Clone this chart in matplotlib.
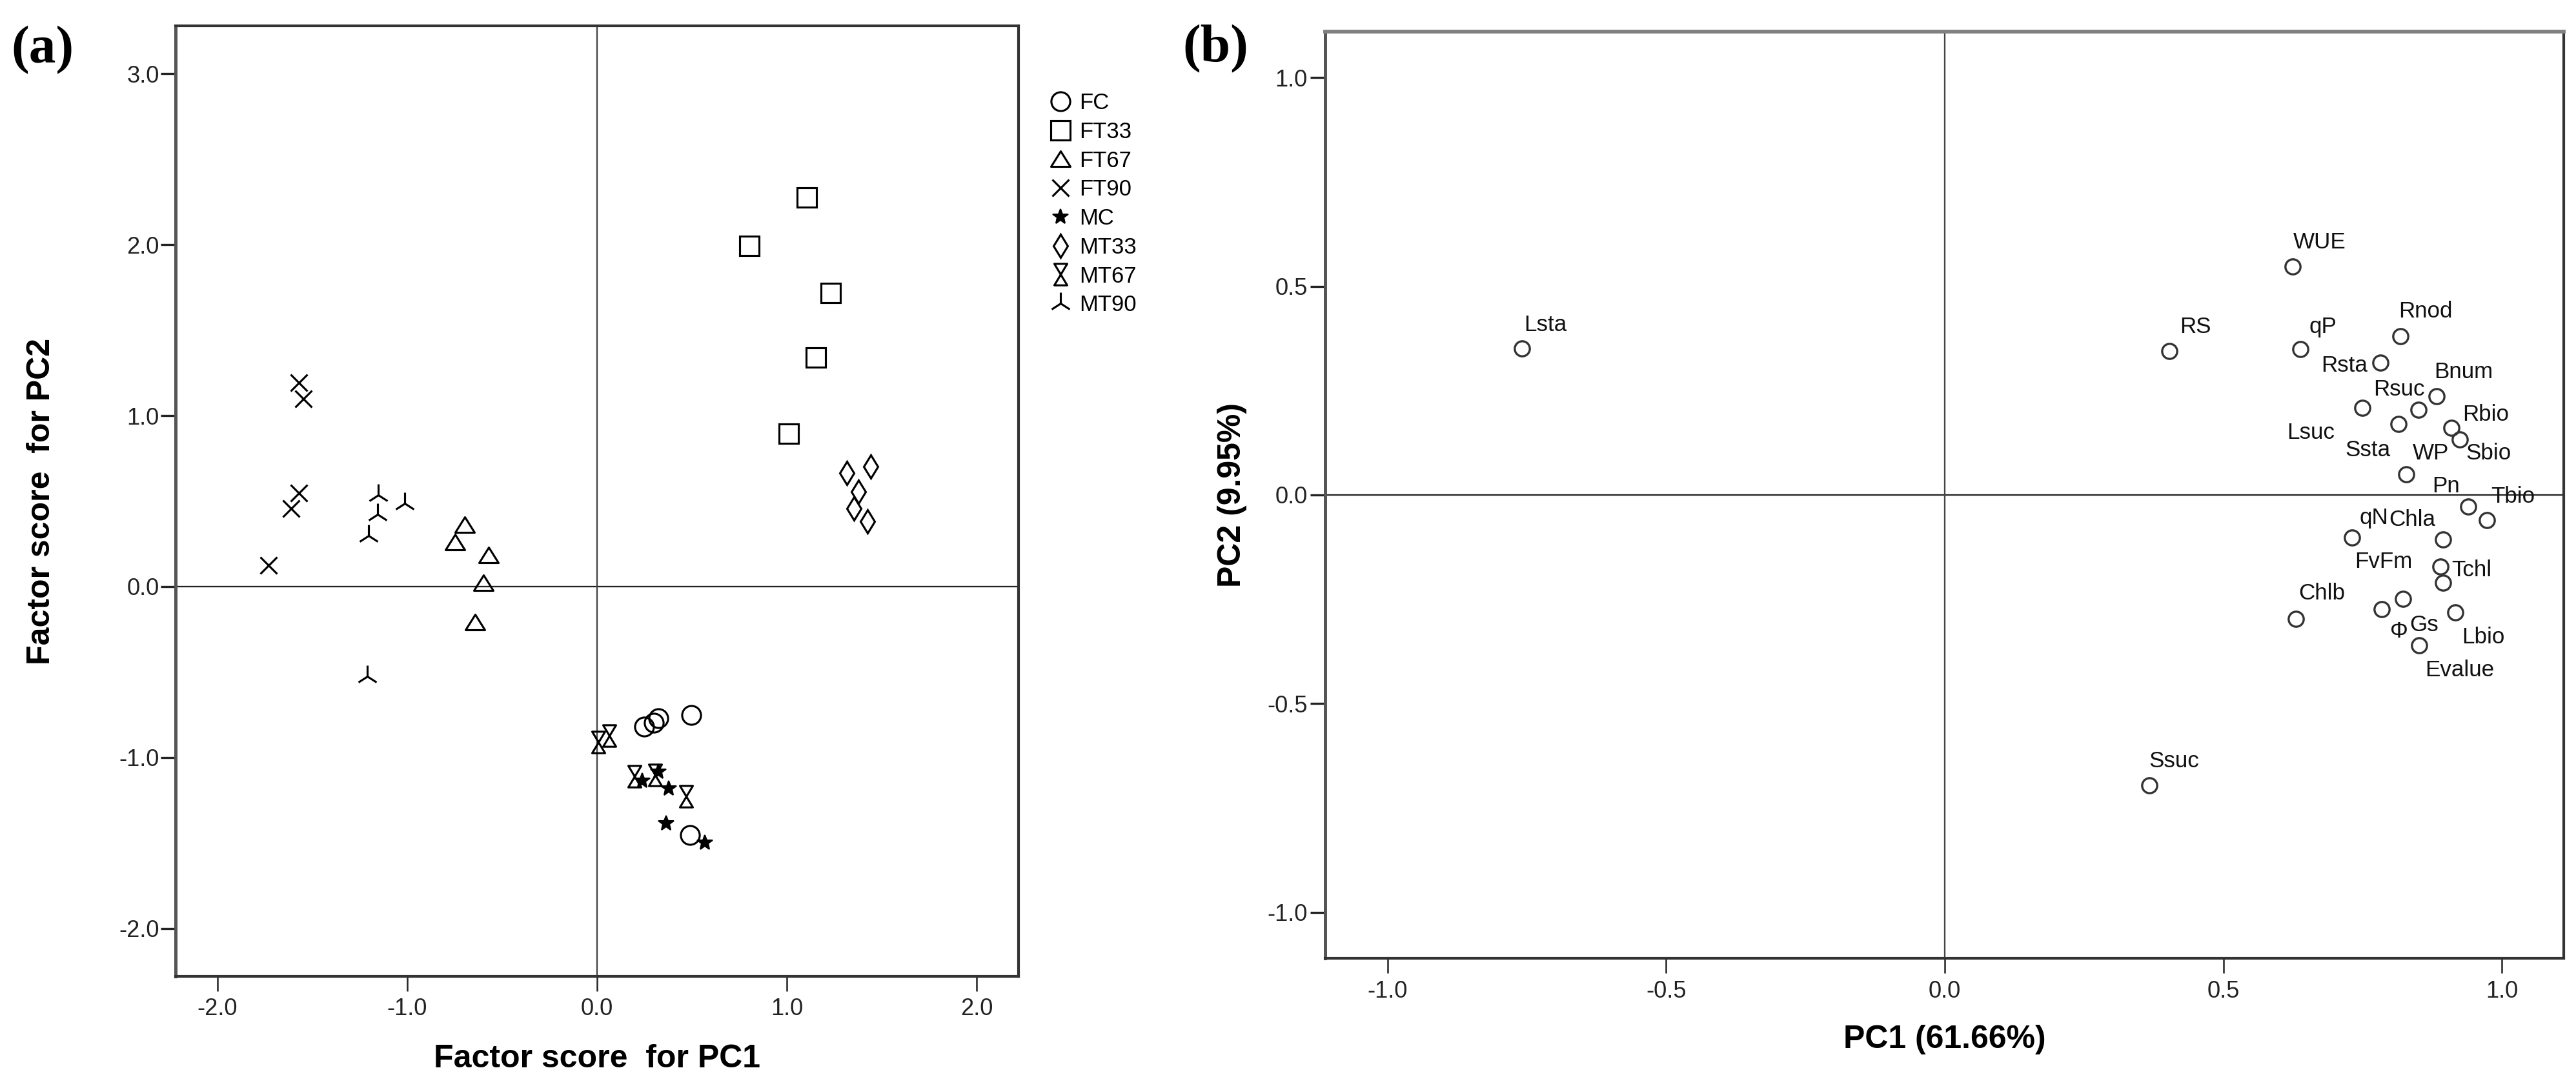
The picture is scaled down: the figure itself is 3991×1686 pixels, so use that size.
import numpy as np
import matplotlib
matplotlib.use("Agg")
import matplotlib.pyplot as plt
from matplotlib.path import Path

plt.rcParams['font.family'] = ['Liberation Sans', 'DejaVu Sans']
plt.rcParams['axes.unicode_minus'] = False

# Panel (a): factor scores of the samples
groups = ['FC', 'FT33', 'FT67', 'FT90', 'MC', 'MT33', 'MT67', 'MT90']
fc_pc1 = [0.496, 0.323, 0.298, 0.249, 0.488]
fc_pc2 = [-0.752, -0.771, -0.796, -0.821, -1.454]
ft33_pc1 = [1.105, 0.801, 1.230, 1.152, 1.010]
ft33_pc2 = [2.277, 1.994, 1.717, 1.341, 0.894]
ft67_pc1 = [-0.696, -0.748, -0.571, -0.597, -0.644]
ft67_pc2 = [0.362, 0.260, 0.184, 0.022, -0.206]
ft90_pc1 = [-1.572, -1.546, -1.572, -1.611, -1.729]
ft90_pc2 = [1.192, 1.098, 0.548, 0.455, 0.124]
mc_pc1 = [0.238, 0.323, 0.378, 0.363, 0.567]
mc_pc2 = [-1.136, -1.084, -1.180, -1.385, -1.498]
mt33_pc1 = [1.441, 1.316, 1.377, 1.353, 1.425]
mt33_pc2 = [0.703, 0.663, 0.553, 0.458, 0.380]
mt67_pc1 = [0.006, 0.066, 0.198, 0.306, 0.468]
mt67_pc2 = [-0.909, -0.872, -1.111, -1.104, -1.226]
mt90_pc1 = [-1.151, -1.012, -1.156, -1.203, -1.211]
mt90_pc2 = [0.535, 0.488, 0.423, 0.297, -0.526]

# Panel (b): loadings of the variables
var_names = ['Lsta', 'WUE', 'RS', 'qP', 'Rnod', 'Rsta', 'Bnum', 'Lsuc', 'Rsuc',
             'Ssta', 'Rbio', 'Sbio', 'WP', 'Pn', 'Tbio', 'qN', 'Chla', 'Tchl',
             'FvFm', 'Gs', 'Φ', 'Chlb', 'Lbio', 'Evalue', 'Ssuc']
pc1_load = [-0.759, 0.625, 0.403, 0.638, 0.818, 0.782, 0.883, 0.750, 0.850,
            0.815, 0.909, 0.924, 0.828, 0.940, 0.973, 0.731, 0.894, 0.890,
            0.894, 0.823, 0.784, 0.630, 0.916, 0.851, 0.367]
pc2_load = [0.351, 0.548, 0.344, 0.350, 0.380, 0.317, 0.236, 0.209, 0.204,
            0.170, 0.161, 0.133, 0.050, -0.028, -0.060, -0.102, -0.106, -0.171,
            -0.211, -0.249, -0.273, -0.297, -0.282, -0.360, -0.695]

# where each point label sits relative to its point (pixels at 300 dpi, y up)
label_place = {
    'Lsta': (3, 27, 'left'), 'WUE': (0, 28, 'left'), 'RS': (16, 28, 'left'),
    'qP': (14, 25, 'left'), 'Rnod': (-3, 29, 'left'), 'Rsta': (-20, -14, 'right'),
    'Bnum': (-4, 28, 'left'), 'Lsuc': (-43, -48, 'right'), 'Rsuc': (-70, 22, 'left'),
    'Ssta': (-13, -50, 'right'), 'Rbio': (18, 11, 'left'), 'Sbio': (10, -31, 'left'),
    'WP': (10, 23, 'left'), 'Pn': (-14, 22, 'right'), 'Tbio': (6, 27, 'left'),
    'qN': (12, 21, 'left'), 'Chla': (-11, 21, 'right'), 'Tchl': (17, -15, 'left'),
    'FvFm': (-47, 23, 'right'), 'Gs': (10, -50, 'left'), 'Φ': (13, -44, 'left'),
    'Chlb': (4, 30, 'left'), 'Lbio': (10, -48, 'left'), 'Evalue': (10, -48, 'left'),
    'Ssuc': (0, 28, 'left'),
}

W, H, DPI = 3991, 1686, 300
fig = plt.figure(figsize=(W / DPI, H / DPI), dpi=DPI)
px = 72.0 / DPI

# axes boxes measured in pixels: left, top, right, bottom
def box(l, t, r, b):
    return [l / W, 1 - b / H, (r - l) / W, (b - t) / H]

ax1 = fig.add_axes(box(272, 40, 1578, 1513))
ax2 = fig.add_axes(box(2053, 49, 3972, 1485))

hourglass = Path([(-0.6, 1), (0.6, 1), (-0.6, -1), (0.6, -1), (-0.6, 1)],
                 [Path.MOVETO, Path.LINETO, Path.LINETO, Path.LINETO, Path.CLOSEPOLY])
triangle = Path([(0, 0.8), (-1, -0.8), (1, -0.8), (0, 0.8)],
                [Path.MOVETO, Path.LINETO, Path.LINETO, Path.CLOSEPOLY])

series = [
    (fc_pc1, fc_pc2, 'o', 7.0),
    (ft33_pc1, ft33_pc2, 's', 7.0),
    (ft67_pc1, ft67_pc2, triangle, 7.2),
    (ft90_pc1, ft90_pc2, 'x', 6.2),
    (mc_pc1, mc_pc2, '*', 6.0),
    (mt33_pc1, mt33_pc2, 'd', 6.0),
    (mt67_pc1, mt67_pc2, hourglass, 8.0),
    (mt90_pc1, mt90_pc2, '2', 8.3),
]

ax1.axhline(0, color='#222222', lw=0.55, zorder=1)
ax1.axvline(0, color='#444444', lw=0.55, zorder=1)
for (xs, ys, mk, ms), name in zip(series, groups):
    filled = mk == '*'
    ax1.plot(xs, ys, linestyle='none', marker=mk, markersize=ms,
             markerfacecolor='black' if filled else 'none',
             markeredgecolor='black', markeredgewidth=0.5 if filled else 0.75,
             label=name, zorder=3)

ax1.set_xlim(-2.22, 2.22)
ax1.set_ylim(-2.28, 3.28)
ax1.set_xticks([-2, -1, 0, 1, 2])
ax1.set_yticks([-2, -1, 0, 1, 2, 3])
ax1.xaxis.set_major_formatter(matplotlib.ticker.FormatStrFormatter('%.1f'))
ax1.yaxis.set_major_formatter(matplotlib.ticker.FormatStrFormatter('%.1f'))
ax1.tick_params(axis='y', direction='out', length=5.5, width=0.8, pad=0.6, labelsize=8.7, colors='#222222')
ax1.tick_params(axis='x', direction='out', length=5.5, width=0.6, pad=2.4, labelsize=8.7, colors='#222222')
for s in ax1.spines.values():
    s.set_color('#333333')
    s.set_linewidth(1.0)
ax1.spines['left'].set_color('#555555')
ax1.spines['left'].set_linewidth(1.2)

ax1.set_xlabel('Factor score  for PC1', fontsize=12, fontweight='bold')
ax1.set_ylabel('Factor score  for PC2', fontsize=12, fontweight='bold')
ax1.xaxis.set_label_coords(0.5, -0.0713)
ax1.yaxis.set_label_coords(-0.142, 0.5)

ax1.legend(loc='upper left', bbox_to_anchor=(1626 / W, 1 - 143 / H),
           bbox_transform=fig.transFigure, frameon=False, fontsize=8.3,
           borderpad=0, borderaxespad=0, handlelength=1.0, handletextpad=0.34,
           labelspacing=0.34, numpoints=1)

# Panel (b)
ax2.axhline(0, color='#222222', lw=0.55, zorder=1)
ax2.axvline(0, color='#444444', lw=0.55, zorder=1)
ax2.plot(pc1_load, pc2_load, linestyle='none', marker='o', markersize=5.6,
         markerfacecolor='none', markeredgecolor='#333333', markeredgewidth=0.8, zorder=3)
for name, xv, yv in zip(var_names, pc1_load, pc2_load):
    dx, dy, ha = label_place[name]
    ax2.annotate(name, (xv, yv), xytext=(dx * px, dy * px), textcoords='offset points',
                 ha=ha, va='baseline', fontsize=8.4, color='#111111')

ax2.set_xlim(-1.112, 1.111)
ax2.set_ylim(-1.11, 1.11)
ax2.set_xticks([-1.0, -0.5, 0.0, 0.5, 1.0])
ax2.set_yticks([-1.0, -0.5, 0.0, 0.5, 1.0])
ax2.xaxis.set_major_formatter(matplotlib.ticker.FormatStrFormatter('%.1f'))
ax2.yaxis.set_major_formatter(matplotlib.ticker.FormatStrFormatter('%.1f'))
ax2.tick_params(axis='y', direction='out', length=5.5, width=0.8, pad=1.0, labelsize=8.7, colors='#222222')
ax2.tick_params(axis='x', direction='out', length=5.5, width=0.6, pad=2.6, labelsize=8.7, colors='#222222')
for s in ax2.spines.values():
    s.set_color('#333333')
    s.set_linewidth(1.0)
ax2.spines['top'].set_color('#808080')
ax2.spines['top'].set_linewidth(1.4)
ax2.spines['left'].set_color('#555555')
ax2.spines['left'].set_linewidth(1.2)

ax2.set_xlabel('PC1 (61.66%)', fontsize=12, fontweight='bold')
ax2.set_ylabel('PC2 (9.95%)', fontsize=12, fontweight='bold')
ax2.xaxis.set_label_coords(0.5, -0.0717)
ax2.yaxis.set_label_coords(-0.063, 0.5)

# panel letters
fig.text(17 / W, 1 - 40 / H, '(a)', family='Liberation Serif', fontweight='bold',
         fontsize=20, va='top', ha='left')
fig.text(1832 / W, 1 - 38 / H, '(b)', family='Liberation Serif', fontweight='bold',
         fontsize=20, va='top', ha='left')

fig.savefig('out.png', dpi=DPI)
